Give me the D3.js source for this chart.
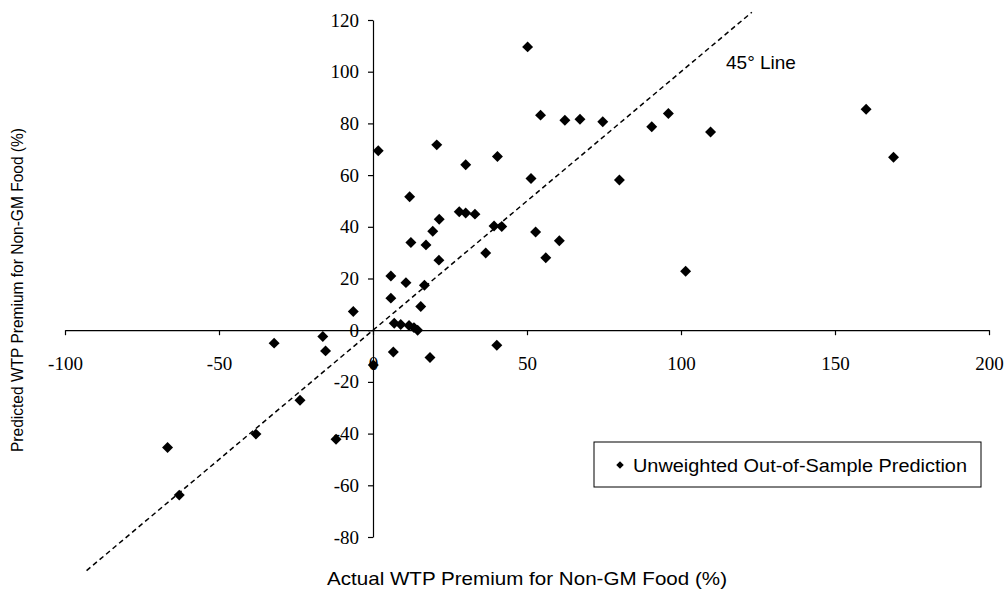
<!DOCTYPE html>
<html>
<head>
<meta charset="utf-8">
<script src="https://cdn.jsdelivr.net/npm/d3@7"></script>
<style>
  body { margin: 0; background: #fff; }
  svg { display: block; }
</style>
</head>
<body>
<svg id="chart" width="1005" height="589"></svg>
<script>
// actual vs predicted WTP premium (%)
var actual = [1.7, 20.7, 30.1, 40.4, 51.3, 11.9, 28.0, 30.1, 33.1, 21.5,
  19.4, 39.3, 41.8, 52.8, 12.3, 17.2, 36.6, 21.4, 5.8, 10.7,
  16.7, 5.8, 15.5, -6.4, 6.9, 9.0, 11.7, 13.3, 14.5, 6.6,
  18.5, 40.2, 0.1, 50.2, 54.4, 62.3, 67.2, 74.6, 90.5, 95.9,
  109.6, 80.0, 60.5, 56.1, 101.5, 160.1, 169.0, -16.3, -15.4, -32.1,
  -23.7, -38.0, -66.7, -62.9, -12.0];
var predicted = [69.4, 71.7, 64.0, 67.2, 58.7, 51.6, 45.8, 45.3, 44.9, 42.9,
  38.3, 40.3, 40.1, 38.0, 33.9, 33.0, 29.9, 27.1, 21.0, 18.4,
  17.4, 12.4, 9.2, 7.2, 2.7, 2.2, 1.8, 1.0, 0.0, -8.4,
  -10.6, -5.8, -13.5, 109.6, 83.2, 81.2, 81.6, 80.6, 78.7, 83.8,
  76.7, 58.1, 34.6, 28.0, 22.8, 85.5, 66.9, -2.4, -8.0, -5.0,
  -27.1, -40.2, -45.4, -63.8, -42.2];
var xTicks = [-100, -50, 0, 50, 100, 150, 200];
var yTicks = [-80, -60, -40, -20, 0, 20, 40, 60, 80, 100, 120];
var lineEnds = [-93, 123];

var svg = d3.select("#chart");

var x = d3.scaleLinear().domain([-100, 200]).range([65, 989]);
var y = d3.scaleLinear().domain([-80, 120]).range([537, 20]);

var plain = function(d) { return String(d); };

// x axis through y = 0
var gx = svg.append("g")
  .attr("transform", "translate(0," + y(0) + ")")
  .call(d3.axisBottom(x).tickValues(xTicks).tickFormat(plain)
    .tickSize(5).tickPadding(21).tickSizeOuter(0));

// y axis through x = 0
var gy = svg.append("g")
  .attr("transform", "translate(" + x(0) + ",0)")
  .call(d3.axisLeft(y).tickValues(yTicks).tickFormat(plain)
    .tickSize(5).tickPadding(9).tickSizeOuter(0));

svg.selectAll(".tick text")
  .style("font-family", "'Liberation Serif', serif")
  .style("font-size", "19px")
  .attr("fill", "#000");
svg.selectAll(".domain, .tick line").attr("stroke", "#000").attr("stroke-width", 1.2);

// 45 degree line
svg.append("line")
  .attr("x1", x(lineEnds[0])).attr("y1", y(lineEnds[0]))
  .attr("x2", x(lineEnds[1])).attr("y2", y(lineEnds[1]))
  .attr("stroke", "#000").attr("stroke-width", 1.5)
  .attr("stroke-dasharray", "5,3.5");

svg.append("text")
  .attr("x", 726).attr("y", 69)
  .style("font-family", "'Liberation Sans', sans-serif").style("font-size", "19px")
  .text("45° Line");

var diamond = d3.symbol().type(d3.symbolSquare).size(60);

svg.append("g").selectAll("path")
  .data(actual)
  .enter().append("path")
  .attr("d", diamond)
  .attr("transform", function(d, i) {
    return "translate(" + x(d) + "," + y(predicted[i]) + ") rotate(45)";
  })
  .attr("fill", "#000");

// legend
var lg = svg.append("g").attr("transform", "translate(594,442)");
lg.append("rect")
  .attr("width", 387).attr("height", 45)
  .attr("fill", "#fff").attr("stroke", "#000").attr("stroke-width", 1);
lg.append("path")
  .attr("d", d3.symbol().type(d3.symbolSquare).size(28))
  .attr("transform", "translate(26,23) rotate(45)");
lg.append("text")
  .attr("x", 39).attr("y", 29.5)
  .attr("textLength", 334).attr("lengthAdjust", "spacingAndGlyphs")
  .style("font-family", "'Liberation Sans', sans-serif").style("font-size", "18px")
  .text("Unweighted Out-of-Sample Prediction");

// axis titles
svg.append("text")
  .attr("x", 327).attr("y", 585)
  .attr("textLength", 400).attr("lengthAdjust", "spacingAndGlyphs")
  .style("font-family", "'Liberation Sans', sans-serif").style("font-size", "19px")
  .text("Actual WTP Premium for Non-GM Food (%)");

svg.append("text")
  .attr("transform", "translate(23,452) rotate(-90)")
  .attr("textLength", 324).attr("lengthAdjust", "spacingAndGlyphs")
  .style("font-family", "'Liberation Sans', sans-serif").style("font-size", "17px")
  .text("Predicted WTP Premium for Non-GM Food (%)");
</script>
</body>
</html>
